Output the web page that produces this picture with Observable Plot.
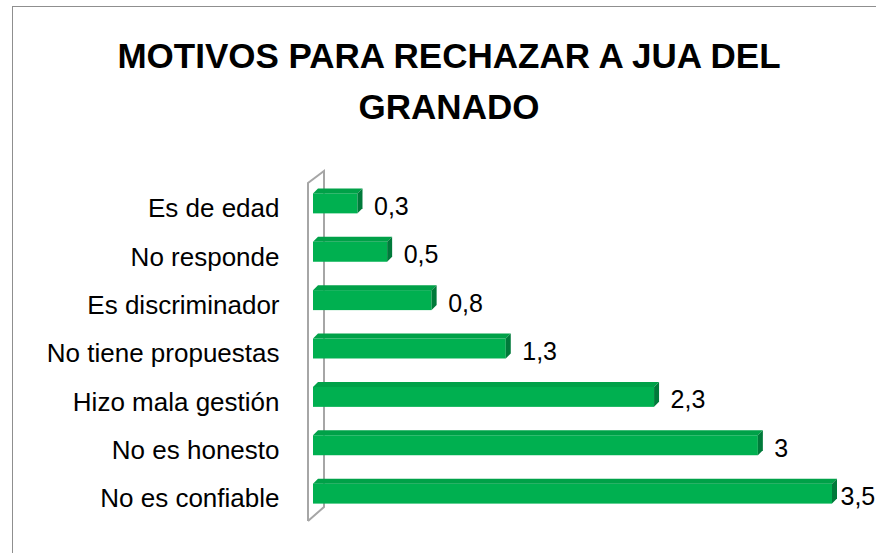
<!DOCTYPE html>
<html>
<head>
<meta charset="utf-8">
<script src="https://cdn.jsdelivr.net/npm/d3@7"></script>
<script src="https://cdn.jsdelivr.net/npm/@observablehq/plot@0.6"></script>
<style>
  html, body { margin: 0; padding: 0; background: #fff; }
  #wrap { position: relative; width: 876px; height: 553px; overflow: hidden; background: #fff; }
  #frame { position: absolute; left: 12px; top: 6px; width: 900px; height: 600px;
           border-left: 1.5px solid #8f8f8f; border-top: 1.5px solid #8f8f8f; pointer-events: none; }
  #title { margin: 0; box-sizing: border-box; height: 145px; padding-top: 30px; margin-left: 12px; width: 874px;
           text-align: center; font: 700 35px/51px "Liberation Sans", Arial, sans-serif; color: #000; }
  #chart svg { display: block; }
</style>
</head>
<body>
<div id="wrap">
  <div id="title">MOTIVOS PARA RECHAZAR A JUA DEL<br>GRANADO</div>
  <div id="chart"></div>
  <div id="frame"></div>
</div>
<script>
const categories = ["Es de edad", "No responde", "Es discriminador", "No tiene propuestas", "Hizo mala gestión", "No es honesto", "No es confiable"];
const values = [0.3, 0.5, 0.8, 1.3, 2.3, 3, 3.5];
const valueLabels = ["0,3", "0,5", "0,8", "1,3", "2,3", "3", "3,5"];

const data = categories.map((c, i) => ({category: c, value: values[i], label: valueLabels[i]}));
const maxValue = d3.max(values);

const FRONT = "#00B050", TOP = "#00A148", SIDE = "#007A3A", WALL = "#a6a6a6";

function bandwidthOf(scale) {
  return typeof scale.bandwidth === "function" ? scale.bandwidth() : scale.bandwidth;
}

// 3D wall at the left of the plot, positioned from the x scale origin
function wall(index, scales, values, dimensions) {
  const x0 = scales.x(0);
  const top = dimensions.marginTop;
  const bottom = dimensions.height - dimensions.marginBottom;
  const g = d3.create("svg:g").attr("fill", "none").attr("stroke", WALL).attr("stroke-width", 2);
  const pts = [
    [x0 - 5, bottom - 11],
    [x0 - 5, top + 18],
    [x0 + 11, top + 6],
    [x0 + 11, bottom - 25],
    [x0 - 5, bottom - 11]
  ];
  g.append("path").attr("d", "M" + pts.map(p => p.join(",")).join("L"));
  return g.node();
}

// top and side faces of the 3D bars, using the library's scales
function faces(index, scales) {
  const bw = bandwidthOf(scales.y);
  const g = d3.create("svg:g");
  const xs = scales.x(0);
  for (const d of data) {
    const y0 = scales.y(d.category);
    const xe = scales.x(d.value);
    g.append("polygon").attr("fill", TOP)
      .attr("points", [[xs, y0], [xe, y0], [xe + 5, y0 - 5], [xs + 5, y0 - 5]].map(p => p.join(",")).join(" "));
    g.append("polygon").attr("fill", SIDE)
      .attr("points", [[xe, y0], [xe + 5, y0 - 5], [xe + 5, y0 + bw - 5], [xe, y0 + bw]].map(p => p.join(",")).join(" "));
  }
  return g.node();
}

const marks = [
  wall,
  Plot.barX(data, {y: "category", x1: 0, x2: "value", fill: FRONT}),
  faces,
  Plot.text(data.filter(d => d.value < maxValue), {x: "value", y: "category", text: "label", dx: 16, dy: 3, textAnchor: "start", fontSize: 25, fill: "#000"}),
  Plot.text(data.filter(d => d.value >= maxValue), {x: "value", y: "category", text: "label", dx: 8, dy: 3, textAnchor: "start", fontSize: 25, fill: "#000"})
];
if (Plot.axisY) {
  marks.push(Plot.axisY({tickSize: 0, tickPadding: 34, fontSize: 26, dy: 5, label: null, fill: "#000"}));
}

const chart = Plot.plot({
  width: 876,
  height: 408,
  marginTop: 20,
  marginBottom: 21,
  marginLeft: 313,
  marginRight: 44,
  style: {fontFamily: "'Liberation Sans', Arial, sans-serif", fontSize: "26px", color: "#000", background: "transparent", overflow: "visible"},
  x: {domain: [0, 3.5], axis: null},
  y: Plot.axisY
    ? {domain: categories, padding: 0.587, round: false, label: null, axis: null}
    : {domain: categories, padding: 0.587, round: false, label: null, tickSize: 0, tickPadding: 34},
  marks
});
document.getElementById("chart").appendChild(chart);
</script>
</body>
</html>
